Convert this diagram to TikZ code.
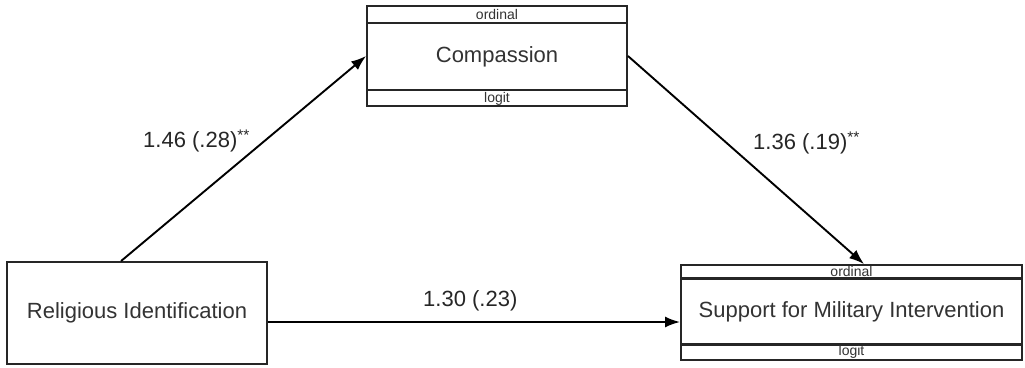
\documentclass[tikz,border=0pt]{standalone}
\usepackage{fontspec}
\setmainfont{Liberation Sans}
\usetikzlibrary{arrows.meta,calc}
\begin{document}
\begin{tikzpicture}[x=1pt,y=-1pt,
  box/.style={draw=black!85,line width=1.9pt,rectangle,inner sep=0pt,font=\fontsize{22}{24}\selectfont,text=black!80},
  small/.style={font=\fontsize{14}{16}\selectfont,text=black!80,inner sep=0pt},
  lbl/.style={font=\fontsize{22}{24}\selectfont,text=black!85,inner sep=0pt},
  arr/.style={draw=black,line width=1.9pt,-{Latex[length=15pt,width=11pt]}},
  div/.style={draw=black!85,line width=2.2pt}]
\useasboundingbox (0,0) rectangle (1025,367);
\fill[white] (0,0) rectangle (1025,367);
% boxes
\node[box,minimum width=260pt,minimum height=100pt] (comp) at (497,56) {};
\node[box,minimum width=341pt,minimum height=95pt] (supp) at (851.5,312.5) {};
\node[box,minimum width=260pt,minimum height=102pt] (rel) at (137,313) {Religious Identification};
% compassion strips
\draw[div] ([yshift=-18pt]comp.north west) coordinate (c1) -- (c1 -| comp.east);
\draw[div] ([yshift=17pt]comp.south west) coordinate (c2) -- (c2 -| comp.east);
\node[small] (co) at ($(comp.north)!0.5!(c1 -| comp.north)$) {ordinal};
\node[small] (cl) at ($(comp.south)!0.5!(c2 -| comp.south)$) {logit};
\node[box,draw=none] (ct) at ($(c1 -| comp.north)!0.5!(c2 -| comp.north)$) {Compassion};
% support strips
\draw[div,line width=3pt] ([yshift=-14pt]supp.north west) coordinate (s1) -- (s1 -| supp.east);
\draw[div,line width=3pt] ([yshift=16pt]supp.south west) coordinate (s2) -- (s2 -| supp.east);
\node[small] (so) at ($(supp.north)!0.5!(s1 -| supp.north)$) {ordinal};
\node[small] (sl) at ([yshift=1pt]$(supp.south)!0.5!(s2 -| supp.south)$) {logit};
\node[box,draw=none] (st) at ($(s1 -| supp.north)!0.5!(s2 -| supp.north)$) {Support for Military Intervention};
% arrows
\draw[arr] ([xshift=115pt]rel.north west) -- (comp.west);
\draw[arr] (comp.east) -- ([xshift=184pt]supp.north west);
\draw[arr] ([yshift=-9pt]rel.east) coordinate (h) -- (supp.west |- h);
% labels
\node[lbl,anchor=west] (l1) at (143,141) {1.46 (.28)\textsuperscript{**}};
\node[lbl,anchor=west] (l2) at (753,143) {1.36 (.19)\textsuperscript{**}};
\node[lbl,anchor=west] (l3) at (423,301) {1.30 (.23)};
\end{tikzpicture}
\end{document}
